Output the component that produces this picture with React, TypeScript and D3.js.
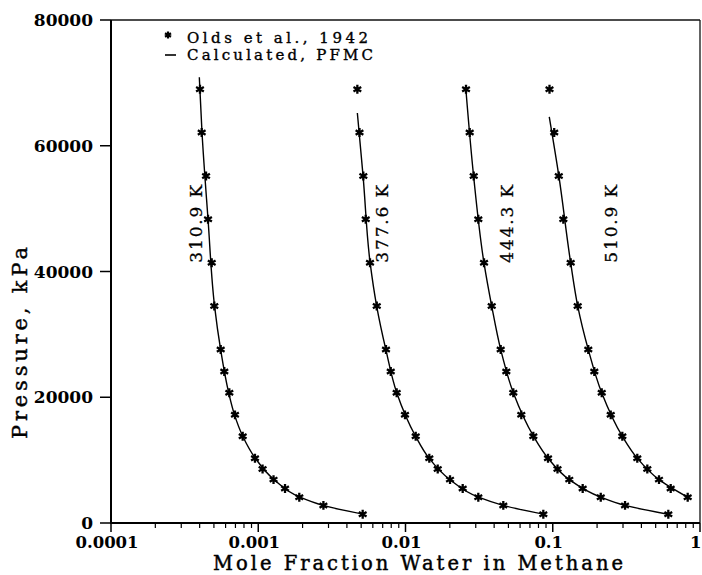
import * as d3 from "d3";

// axis ticks
const xTickValues = [0.0001, 0.001, 0.01, 0.1, 1];
const xTickLabels = ["0.0001", "0.001", "0.01", "0.1", "1"];
const yTickValues = [0, 20000, 40000, 60000, 80000];
const yTickLabels = ["0", "20000", "40000", "60000", "80000"];

// isotherms
const temperatures = ["310.9 K", "377.6 K", "444.3 K", "510.9 K"];
const labelX = [0.000415, 0.0076, 0.0537, 0.273];
const labelP = 47600;

// Olds et al., 1942 (kPa, mole fraction water)
const oldsP = [69000, 62100, 55200, 48300, 41400, 34500, 27600, 24100, 20700, 17200, 13800, 10300, 8600, 6900, 5500, 4100, 2800, 1400];
const olds310 = [0.000402, 0.000413, 0.000442, 0.000456, 0.000483, 0.000503, 0.000556, 0.000588, 0.000636, 0.000695, 0.000784, 0.00095, 0.00107, 0.00127, 0.00152, 0.0019, 0.00277, 0.00512];
const olds377 = [0.00471, 0.00487, 0.00517, 0.00537, 0.00574, 0.00638, 0.00737, 0.00794, 0.00871, 0.00992, 0.01173, 0.01451, 0.01655, 0.02006, 0.02446, 0.03122, 0.04615, 0.08628];
const olds444 = [0.02576, 0.02729, 0.02906, 0.03122, 0.03414, 0.0385, 0.04431, 0.04837, 0.05396, 0.06115, 0.07379, 0.09284, 0.1077, 0.1295, 0.1597, 0.2118, 0.3097, 0.6093];
const olds510 = [0.09504, 0.1023, 0.1099, 0.118, 0.1324, 0.1477, 0.1743, 0.1915, 0.2151, 0.2476, 0.2968, 0.3751, 0.4387, 0.5267, 0.6324, 0.8249];

// Calculated, PFMC
const calc310P = [70900, 62100, 48300, 34500, 27600, 20700, 17200, 13800, 10300, 6900, 4100, 2800, 1400];
const calc310 = [0.000398, 0.000415, 0.000456, 0.000505, 0.000555, 0.00063, 0.00069, 0.000785, 0.000955, 0.00128, 0.00192, 0.00275, 0.00515];
const calc377P = [65200, 55200, 41400, 34500, 27600, 20700, 13800, 10300, 6900, 4100, 2800, 1400];
const calc377 = [0.00471, 0.00515, 0.00575, 0.00637, 0.00735, 0.00872, 0.0117, 0.01445, 0.02, 0.0313, 0.046, 0.0863];
const calc444P = [68500, 55200, 41400, 34500, 27600, 20700, 13800, 10300, 6900, 4100, 2800, 1400];
const calc444 = [0.0258, 0.029, 0.0341, 0.0385, 0.0443, 0.054, 0.074, 0.093, 0.1295, 0.212, 0.3095, 0.609];
const calc510P = [64600, 55200, 41400, 34500, 27600, 20700, 13800, 10300, 6900, 4100];
const calc510 = [0.0947, 0.11, 0.1323, 0.1478, 0.1742, 0.215, 0.2965, 0.375, 0.5265, 0.8249];

const oldsSeries = [olds310, olds377, olds444, olds510];
const calcSeries = [
  { p: calc310P, x: calc310 },
  { p: calc377P, x: calc377 },
  { p: calc444P, x: calc444 },
  { p: calc510P, x: calc510 },
];

const W = 702;
const H = 575;
const left = 111;
const right = 700;
const top = 20;
const bottom = 523;
const font = "'DejaVu Serif', serif";

export default function App() {
  const x = d3.scaleLog().domain([0.0001, 1]).range([left, right]);
  const y = d3.scaleLinear().domain([0, 80000]).range([bottom, top]);

  const minorTicks: number[] = [];
  for (let e = -4; e < 0; e++) {
    for (let m = 2; m <= 9; m++) minorTicks.push(m * Math.pow(10, e));
  }

  const line = d3
    .line<[number, number]>()
    .x((d) => x(d[0]))
    .y((d) => y(d[1]))
    .curve(d3.curveMonotoneY);

  const star = d3.symbol(d3.symbolAsterisk, 56)() as string;
  const legendStar = d3.symbol(d3.symbolAsterisk, 34)() as string;
  const last = xTickValues.length - 1;

  return (
    <svg
      width={W}
      height={H}
      style={{ position: "absolute", left: 0, top: 0, background: "#fff" }}
      fontFamily={font}
    >
      {/* frame */}
      <line x1={left} x2={right} y1={top} y2={top} stroke="#111" strokeWidth={1.3} />
      <line x1={right} x2={right} y1={top} y2={bottom} stroke="#111" strokeWidth={1.3} />
      <line x1={left} x2={left} y1={top} y2={bottom + 1} stroke="#000" strokeWidth={2} />
      <line x1={left - 1} x2={right} y1={bottom} y2={bottom} stroke="#000" strokeWidth={2.2} />

      {/* y axis */}
      {yTickValues.map((v, i) => (
        <g key={v} transform={`translate(0,${y(v)})`}>
          <line x1={left - 11} x2={left} stroke="#000" strokeWidth={1.5} />
          <text x={93} dy="0.36em" textAnchor="end" fontSize={17} fontWeight="bold">
            {yTickLabels[i]}
          </text>
        </g>
      ))}

      {/* x axis */}
      {minorTicks.map((v) => (
        <line key={v} x1={x(v)} x2={x(v)} y1={bottom} y2={bottom + 5} stroke="#000" strokeWidth={1.2} />
      ))}
      {xTickValues.map((v, i) => (
        <g key={v} transform={`translate(${x(v)},0)`}>
          <line y1={bottom} y2={bottom + 9} stroke="#000" strokeWidth={1.5} />
          <text
            x={i === last ? 1.5 : -4}
            y={548}
            textAnchor={i === last ? "end" : "middle"}
            fontSize={16.5}
            fontWeight="bold"
          >
            {xTickLabels[i]}
          </text>
        </g>
      ))}

      {/* axis titles */}
      <text x={213} y={570} fontSize={19.5} textLength={410} lengthAdjust="spacing" stroke="#000" strokeWidth={0.45}>
        Mole Fraction Water in Methane
      </text>
      <text
        transform="translate(27,343) rotate(-90)"
        textAnchor="middle"
        fontSize={21}
        textLength={192}
        lengthAdjust="spacing"
        stroke="#000"
        strokeWidth={0.4}
      >
        Pressure, kPa
      </text>

      {/* calculated curves */}
      {calcSeries.map((s, i) => (
        <path
          key={i}
          d={line(s.x.map((v, j) => [v, s.p[j]] as [number, number])) ?? ""}
          fill="none"
          stroke="#000"
          strokeWidth={1.4}
        />
      ))}

      {/* experimental points */}
      {oldsSeries.map((s, i) =>
        s.map((v, j) => (
          <path
            key={`${i}-${j}`}
            d={star}
            transform={`translate(${x(v)},${y(oldsP[j])})`}
            fill="none"
            stroke="#000"
            strokeWidth={2.3}
          />
        ))
      )}

      {/* isotherm labels */}
      {temperatures.map((t, i) => (
        <text
          key={t}
          transform={`translate(${x(labelX[i])},${y(labelP)}) rotate(-90)`}
          textAnchor="middle"
          fontSize={17}
          textLength={78}
          lengthAdjust="spacing"
          stroke="#000"
          strokeWidth={0.3}
        >
          {t}
        </text>
      ))}

      {/* legend */}
      <path d={legendStar} transform="translate(168,35)" fill="none" stroke="#000" strokeWidth={2.2} />
      <text x={187} y={43} fontSize={15} textLength={181} lengthAdjust="spacing" stroke="#000" strokeWidth={0.35}>
        Olds et al., 1942
      </text>
      <line x1={165} x2={176} y1={55} y2={55} stroke="#000" strokeWidth={1.6} />
      <text x={187} y={60} fontSize={15} textLength={186} lengthAdjust="spacing" stroke="#000" strokeWidth={0.35}>
        Calculated, PFMC
      </text>
    </svg>
  );
}
